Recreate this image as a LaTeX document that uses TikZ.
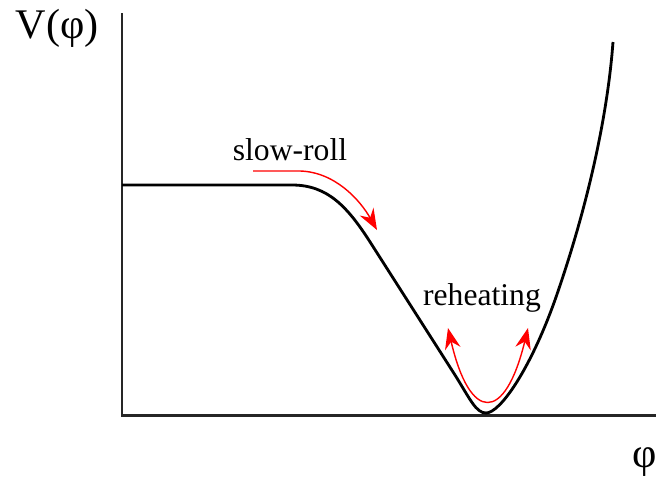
\documentclass[tikz,border=0pt]{standalone}
\usepackage{fontspec}
\setmainfont{Liberation Serif}
\usetikzlibrary{calc, positioning}
\usetikzlibrary{arrows.meta}

\begin{document}
\begin{tikzpicture}[x=0.02cm, y=-0.02cm]
\def\axislw{1.7pt}
\def\curvelw{1.6pt}
\def\plateau{185}
\def\flatend{292}
\tikzset{
  axisline/.style={line width=\axislw, black!85},
  potential/.style={line width=\curvelw, black, line join=round},
  rolltip/.tip={Stealth[length=12pt, width=9pt, inset=4pt]},
  rollarrow/.style={red, line width=0.8pt},
  labeltext/.style={font=\fontsize{18}{20}\selectfont},
  axistext/.style={font=\fontsize{24}{28}\selectfont},
}
\useasboundingbox (0,0) rectangle (657,481);

\coordinate (O) at (122,415);
\coordinate (ytop) at (122,13);
\coordinate (xend) at (656,415);
\coordinate (vmin) at (486,413);
\coordinate (wall) at (613,42);

\draw[axisline] (ytop) -- (O) -- (xend);

\draw[potential] (122,\plateau) -- (\flatend,\plateau)
  .. controls (328,\plateau) and (348,207) .. (372,245)
  -- (455,375)
  .. controls (470,399) and (476,413) .. (vmin)
  .. controls (500,413) and (530,370) .. (555,300)
  .. controls (590,200) and (608,110) .. (wall);

\coordinate (srstart) at (253,171);
\coordinate (srend) at (377,230);
\draw[rollarrow, -rolltip] (srstart) -- (300,171)
  .. controls (335,172) and (360,200) .. (srend);

\coordinate (rhleft) at (448,328);
\coordinate (rhright) at (528,328);
\draw[rollarrow, rolltip-rolltip] (rhleft)
  .. controls (470,423) and (505,423) .. (rhright);

\node[labeltext] (slowroll) at (290,150) {slow-roll};
\node[labeltext] (reheat) at (482,298) {reheating};
\node[axistext] (vlabel) at (57,28) {V(φ)};
\node[axistext] (philabel) at (645,462) {φ};
\end{tikzpicture}
\end{document}
